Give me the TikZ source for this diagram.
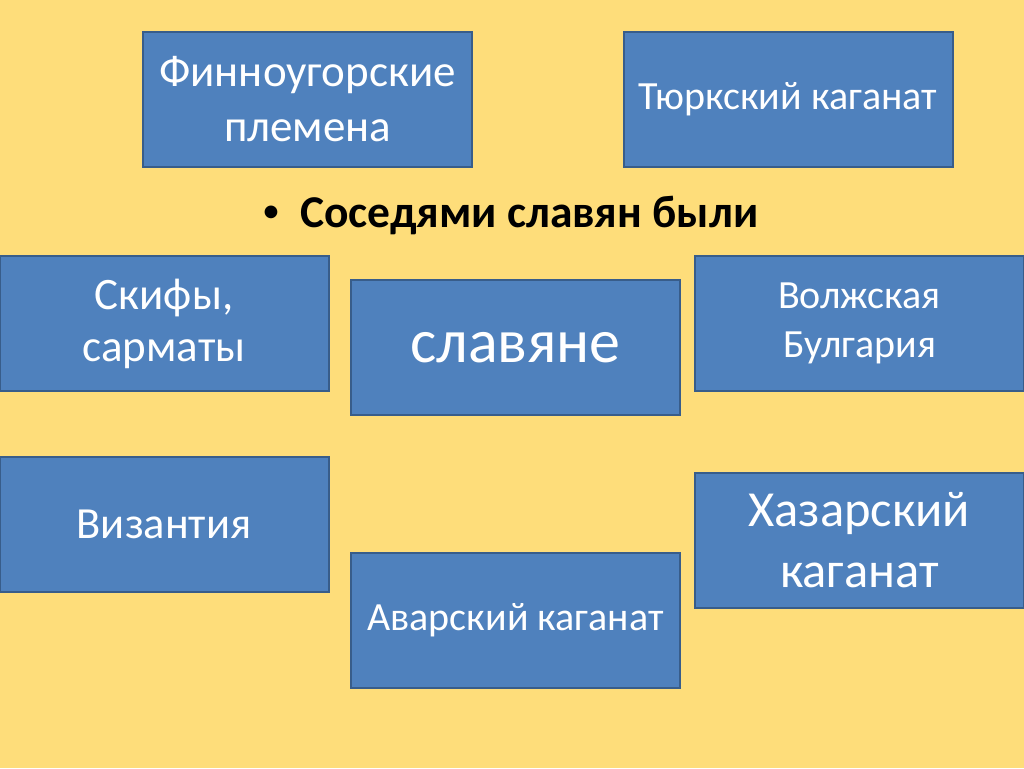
\documentclass[tikz,border=0pt]{standalone}
\usepackage{fontspec}
\setmainfont{Carlito}
\usepackage{xcolor}
\usetikzlibrary{positioning}
\definecolor{slidebg}{RGB}{254,221,122}
\definecolor{boxblue}{RGB}{79,129,189}
\definecolor{boxedge}{RGB}{56,93,138}
\newcommand{\fsz}[2]{\fontsize{#1}{#2}\selectfont}

\begin{document}
\begin{tikzpicture}[x=1pt, y=-1pt,
  every node/.style={inner sep=0pt},
  nbox/.style={draw=boxedge, fill=boxblue, line width=2pt, text=white,
    minimum width=329pt, minimum height=135pt, align=center}]

% BACKGROUND
\fill[slidebg] (0,0) rectangle (1024,768);
\useasboundingbox (0,0) rectangle (1024,768);

% TOP ROW
\node[nbox, font=\fsz{45}{55}] (finno) at (307.5, 99.5) {Финноугорские\\племена};
\node[nbox, font=\fsz{40}{44}] (turk) at (788, 99.5) {Тюркский каганат};

% HEADING
\node[font=\fsz{36}{44}] (dot) at (271, 214) {\textbullet};
\node[anchor=west, font=\bfseries\fsz{45.5}{50}] (title) at (300, 215) {Соседями славян были};

% MIDDLE ROW
\node[nbox, font=\fsz{45}{52}] (skif) at (164, 323.5) {Скифы,\\сарматы};
\node[nbox, font=\fsz{62}{66}] (slav) at (515.5, 347.5) {славяне};
\node[nbox, font=\fsz{40}{49}] (volga) at (859.5, 323.5) {Волжская\\Булгария};

% BOTTOM ROW
\node[nbox, font=\fsz{44.5}{50}] (byz) at (164, 524) {Византия};
\node[nbox, font=\fsz{40}{44}] (avar) at (515.5, 620) {Аварский каганат};
\node[nbox, font=\fsz{50.5}{61}] (khaz) at (859.5, 540) {Хазарский\\каганат};

\end{tikzpicture}
\end{document}
